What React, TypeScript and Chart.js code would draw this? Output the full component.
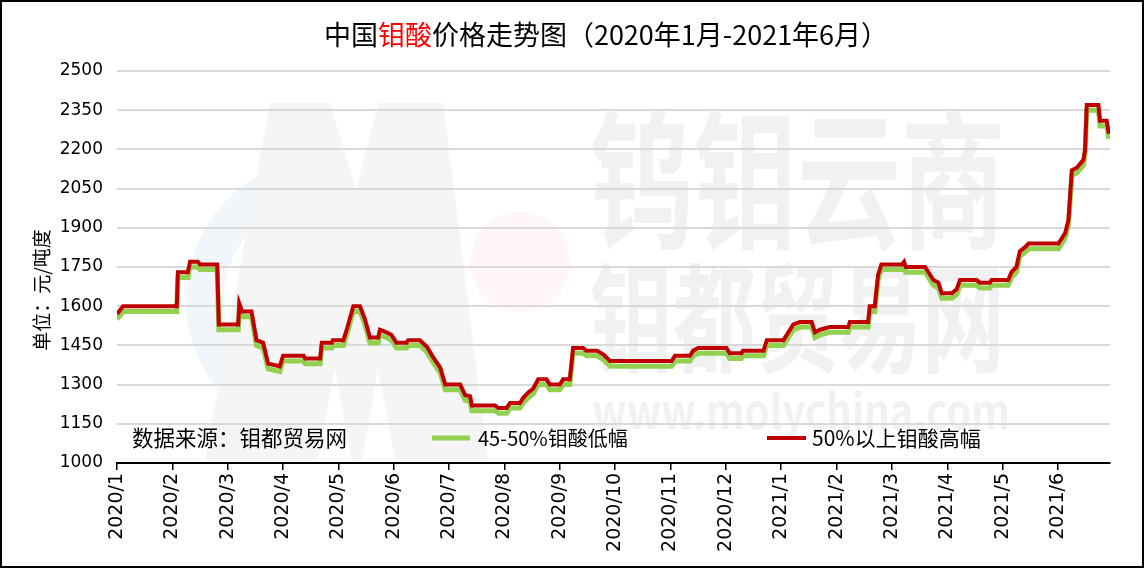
import { useEffect, useRef } from "react";
import { Chart, registerables } from "chart.js";

Chart.register(...registerables);

// ---- data ----
const titleParts: [string, string][] = [
  ["中国", "#000000"],
  ["钼酸", "#ff0000"],
  ["价格走势图（2020年1月-2021年6月）", "#000000"],
];
const yAxisTitle = "单位：元/吨度";
const sourceText = "数据来源：钼都贸易网";
const tickLabels = [
  "2020/1", "2020/2", "2020/3", "2020/4", "2020/5", "2020/6", "2020/7", "2020/8", "2020/9",
  "2020/10", "2020/11", "2020/12", "2021/1", "2021/2", "2021/3", "2021/4", "2021/5", "2021/6",
];
const seriesNames = ["45-50%钼酸低幅", "50%以上钼酸高幅"];
const yMin = 1000;
const yMax = 2500;
const yStep = 150;
const xEnd = 17.94; // months since 2020/1 at the end of the axis

// position in months since 2020/1
const monthPos = [
  0.0, 0.11, 1.08, 1.1, 1.28, 1.32, 1.46, 1.5, 1.81, 1.84, 2.19, 2.21, 2.26, 2.43, 2.52, 2.64,
  2.73, 2.94, 3.0, 3.37, 3.4, 3.67, 3.7, 3.88, 3.9, 4.09, 4.15, 4.27, 4.39, 4.48, 4.57, 4.72,
  4.75, 4.87, 4.96, 5.05, 5.23, 5.26, 5.47, 5.6, 5.71, 5.84, 5.93, 6.2, 6.29, 6.38, 6.41, 6.83,
  6.89, 7.04, 7.1, 7.28, 7.34, 7.43, 7.52, 7.61, 7.76, 7.82, 8.0, 8.06, 8.18, 8.24, 8.42, 8.48,
  8.67, 8.79, 8.91, 10.02, 10.08, 10.35, 10.41, 10.5, 11.01, 11.07, 11.28, 11.31, 11.68, 11.74,
  12.04, 12.1, 12.22, 12.34, 12.55, 12.61, 12.7, 12.88, 13.21, 13.24, 13.57, 13.6, 13.69, 13.75,
  13.81, 14.18, 14.22, 14.25, 14.6, 14.66, 14.75, 14.84, 14.9, 15.08, 15.17, 15.23, 15.53, 15.59,
  15.77, 15.8, 16.1, 16.16, 16.25, 16.31, 16.4, 16.47, 17.01, 17.13, 17.19, 17.25, 17.34, 17.46,
  17.49, 17.52, 17.73, 17.76, 17.88, 17.92,
];

const highValues = [
  1570, 1600, 1600, 1730, 1730, 1770, 1770, 1760, 1760, 1530, 1530, 1610, 1580, 1580, 1470, 1460,
  1380, 1370, 1410, 1410, 1400, 1400, 1460, 1460, 1470, 1470, 1510, 1600, 1600, 1550, 1480, 1480,
  1510, 1500, 1490, 1460, 1460, 1470, 1470, 1445, 1405, 1365, 1300, 1300, 1260, 1255, 1220, 1220,
  1210, 1210, 1230, 1230, 1250, 1270, 1285, 1320, 1320, 1300, 1300, 1320, 1320, 1440, 1440, 1430,
  1430, 1415, 1390, 1390, 1410, 1410, 1430, 1440, 1440, 1420, 1420, 1430, 1430, 1470, 1470, 1490,
  1530, 1540, 1540, 1500, 1510, 1520, 1520, 1540, 1540, 1600, 1600, 1720, 1760, 1760, 1770, 1750,
  1750, 1730, 1700, 1690, 1650, 1650, 1665, 1700, 1700, 1690, 1690, 1700, 1700, 1730, 1750, 1810,
  1825, 1840, 1840, 1880, 1930, 2120, 2130, 2160, 2200, 2370, 2370, 2310, 2310, 2260,
];

const lowValues = [
  1550, 1580, 1580, 1710, 1710, 1750, 1750, 1740, 1740, 1510, 1510, 1590, 1560, 1560, 1450, 1440,
  1360, 1350, 1390, 1390, 1380, 1380, 1440, 1440, 1450, 1450, 1490, 1580, 1580, 1530, 1460, 1460,
  1490, 1480, 1470, 1440, 1440, 1450, 1450, 1425, 1385, 1345, 1280, 1280, 1240, 1235, 1200, 1200,
  1190, 1190, 1210, 1210, 1230, 1250, 1265, 1300, 1300, 1280, 1280, 1300, 1300, 1420, 1420, 1410,
  1410, 1395, 1370, 1370, 1390, 1390, 1410, 1420, 1420, 1400, 1400, 1410, 1410, 1450, 1450, 1470,
  1510, 1520, 1520, 1480, 1490, 1500, 1500, 1520, 1520, 1580, 1580, 1700, 1740, 1740, 1750, 1730,
  1730, 1710, 1680, 1670, 1630, 1630, 1645, 1680, 1680, 1670, 1670, 1680, 1680, 1710, 1730, 1790,
  1805, 1820, 1820, 1860, 1910, 2100, 2110, 2140, 2180, 2350, 2350, 2290, 2290, 2240,
];

// ---- styles ----
const GREEN = "#92d050";
const RED = "#c00000";
const CJK = '"Noto Sans CJK SC", sans-serif';
const TICK_FONT = '"DejaVu Sans", sans-serif';

const decorPlugin = {
  id: "decor",
  beforeDraw(chart: any) {
    const ctx = chart.ctx as CanvasRenderingContext2D;
    ctx.save();
    ctx.fillStyle = "#ffffff";
    ctx.fillRect(0, 0, chart.width, chart.height);

    // faint logo
    ctx.fillStyle = "rgba(255,230,230,0.3)";
    ctx.beginPath();
    ctx.arc(520, 262, 50, 0, Math.PI * 2);
    ctx.fill();
    ctx.strokeStyle = "rgba(220,232,246,0.4)";
    ctx.lineWidth = 38;
    ctx.beginPath();
    ctx.arc(330, 300, 125, Math.PI * 0.75, Math.PI * 1.35);
    ctx.stroke();
    ctx.fillStyle = "#f5f5f5";
    ctx.beginPath();
    ctx.moveTo(270, 103);
    ctx.lineTo(330, 103);
    ctx.lineTo(356, 190);
    ctx.lineTo(378, 103);
    ctx.lineTo(443, 103);
    ctx.lineTo(488, 460);
    ctx.lineTo(205, 460);
    ctx.closePath();
    ctx.fill();
    ctx.fillStyle = "#ffffff";
    ctx.beginPath();
    ctx.moveTo(318, 460);
    ctx.lineTo(335, 368);
    ctx.lineTo(352, 460);
    ctx.closePath();
    ctx.moveTo(362, 460);
    ctx.lineTo(378, 368);
    ctx.lineTo(395, 460);
    ctx.closePath();
    ctx.fill();

    // faint watermark text
    ctx.fillStyle = "#f1f1f1";
    ctx.textBaseline = "middle";
    ctx.textAlign = "left";
    const fitText = (t: string, x: number, y: number, w: number, font: string) => {
      ctx.font = font;
      const mw = ctx.measureText(t).width;
      ctx.save();
      ctx.translate(x, y);
      ctx.scale(w / mw, 1);
      ctx.fillText(t, 0, 0);
      ctx.restore();
    };
    fitText("钨钼云商", 590, 180, 415, "bold 150px " + CJK);
    fitText("钼都贸易网", 590, 318, 415, "bold 118px " + CJK);
    fitText("www.molychina.com", 592, 411, 418, "bold 48px " + CJK);
    ctx.restore();
  },
  afterDraw(chart: any) {
    const ctx = chart.ctx as CanvasRenderingContext2D;
    ctx.save();
    // title
    ctx.font = "27px " + CJK;
    ctx.textBaseline = "middle";
    ctx.textAlign = "left";
    const total = titleParts.reduce((s, [t]) => s + ctx.measureText(t).width, 0);
    let tx = 606 - total / 2;
    for (const [t, c] of titleParts) {
      ctx.fillStyle = c;
      ctx.fillText(t, tx, 35);
      tx += ctx.measureText(t).width;
    }
    // y-axis title
    ctx.save();
    ctx.translate(42, 290);
    ctx.rotate(-Math.PI / 2);
    ctx.textAlign = "center";
    ctx.fillStyle = "#000";
    ctx.font = "19px " + CJK;
    ctx.fillText(yAxisTitle, 0, 0);
    ctx.restore();
    // source
    ctx.fillStyle = "#000";
    ctx.font = "21.5px " + CJK;
    ctx.textAlign = "left";
    ctx.fillText(sourceText, 132, 438);
    // legend
    const ds = chart.data.datasets;
    const items = [
      { d: ds[1], x0: 432, x1: 470, tx: 478, size: 20 },
      { d: ds[0], x0: 767, x1: 806, tx: 812, size: 21 },
    ];
    for (const it of items) {
      ctx.strokeStyle = it.d.borderColor;
      ctx.lineWidth = it.d.borderWidth;
      ctx.beginPath();
      ctx.moveTo(it.x0, 438);
      ctx.lineTo(it.x1, 438);
      ctx.stroke();
      ctx.fillStyle = "#000";
      ctx.font = it.size + "px " + CJK;
      ctx.fillText(it.d.label, it.tx, 438);
    }
    // frame
    ctx.strokeStyle = "#000";
    ctx.lineWidth = 2;
    ctx.strokeRect(1, 1, chart.width - 2, chart.height - 2);
    ctx.restore();
  },
};

export default function App() {
  const ref = useRef<HTMLCanvasElement>(null);
  useEffect(() => {
    const high = monthPos.map((x, i) => ({ x, y: highValues[i] }));
    const low = monthPos.map((x, i) => ({ x, y: lowValues[i] }));
    const chart = new Chart(ref.current!, {
      type: "line",
      data: {
        datasets: [
          {
            label: seriesNames[1],
            data: high,
            borderColor: RED,
            borderWidth: 4,
            pointRadius: 0,
            tension: 0,
            fill: false,
          },
          {
            label: seriesNames[0],
            data: low,
            borderColor: GREEN,
            borderWidth: 5,
            pointRadius: 0,
            tension: 0,
            fill: false,
          },
        ],
      },
      options: {
        responsive: false,
        animation: false,
        devicePixelRatio: 1,
        layout: { padding: { top: 71, right: 34, left: 0, bottom: 0 } },
        plugins: { legend: { display: false }, tooltip: { enabled: false }, title: { display: false } },
        scales: {
          x: {
            type: "linear",
            min: 0,
            max: xEnd,
            afterBuildTicks: (s: any) => {
              s.ticks = tickLabels.map((_, i) => ({ value: i }));
            },
            afterFit: (s: any) => {
              s.height = 105;
            },
            ticks: {
              autoSkip: false,
              minRotation: 90,
              maxRotation: 90,
              padding: 3,
              color: "#000",
              font: { family: TICK_FONT, size: 19 },
              callback: (v: any) => tickLabels[v] ?? "",
            },
            grid: {
              drawOnChartArea: false,
              drawTicks: true,
              tickLength: 7,
              color: "#000",
              lineWidth: 1.5,
            },
            border: { display: true, color: "#000", width: 2 },
          },
          y: {
            min: yMin,
            max: yMax,
            afterFit: (s: any) => {
              s.width = 117;
            },
            ticks: {
              stepSize: yStep,
              padding: 14,
              color: "#000",
              font: { family: TICK_FONT, size: 17 },
              callback: (v: any) => String(v),
            },
            grid: { color: "#d9d9d9", lineWidth: 2, drawTicks: false },
            border: { display: false },
          },
        },
      },
      plugins: [decorPlugin],
    } as any);
    return () => chart.destroy();
  }, []);
  return (
    <div style={{ position: "absolute", left: 0, top: 0, width: 1144, height: 568 }}>
      <canvas ref={ref} width={1144} height={568} style={{ display: "block" }} />
    </div>
  );
}
